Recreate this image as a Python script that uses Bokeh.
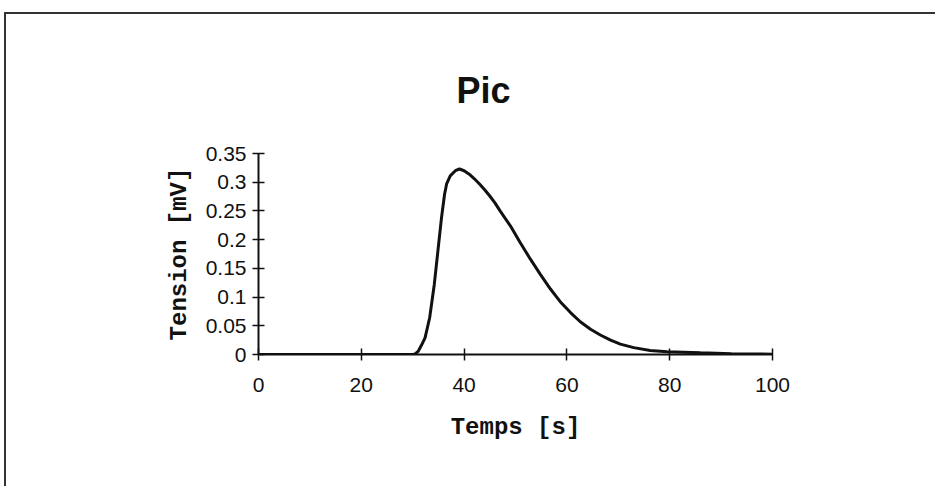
from bokeh.plotting import figure
from bokeh.models import FixedTicker, CustomJSTickFormatter, Range1d
from bokeh.embed import file_html
from bokeh.resources import INLINE

# ---- data ----
temps = [0, 10, 20, 28, 30, 30.5, 31.1, 31.7, 32.4, 33.3, 34.2, 34.9, 35.6, 36.2,
         36.6, 37.3, 38.3, 39.1, 40.0, 41.0, 42.0, 43.0, 44.0, 45.0, 46.0, 47.0,
         49.0, 50.9, 52.9, 54.8, 56.8, 58.7, 60.7, 62.6, 64.6, 66.5, 68.5, 70.4,
         73.0, 76.2, 79.5, 86.0, 92.0, 100]
tension = [0, 0, 0, 0, 0, 0.001, 0.006, 0.016, 0.029, 0.064, 0.122, 0.180, 0.238, 0.279,
           0.297, 0.311, 0.320, 0.323, 0.320, 0.314, 0.306, 0.297, 0.287, 0.276, 0.264, 0.250,
           0.224, 0.195, 0.166, 0.140, 0.114, 0.092, 0.073, 0.057, 0.044, 0.034, 0.025, 0.018,
           0.012, 0.007, 0.005, 0.003, 0.0015, 0.0005]

x_ticks = [0, 20, 40, 60, 80, 100]
y_ticks = [0, 0.05, 0.1, 0.15, 0.2, 0.25, 0.3, 0.35]

title_text = "Pic"
x_label = "Temps [s]"
y_label = "Tension [mV]"

W, H = 931, 474

p = figure(width=W, height=H, output_backend="svg", toolbar_location=None,
           x_range=Range1d(0, 100), y_range=Range1d(0, 0.35),
           min_border_left=252, min_border_right=165,
           min_border_top=139, min_border_bottom=134,
           styles={"box-shadow": "-2px -2px 0 0 #333333",
                   "margin-top": "14px", "margin-left": "6px"})

p.title.text = title_text
p.title.align = "left"
p.title.offset = 198
p.title.standoff = 86
p.title.text_font = "Liberation Sans"
p.title.text_font_size = "36px"
p.title.text_font_style = "bold"
p.title.text_color = "#111111"

p.line(temps, tension, line_color="#111111", line_width=3)

p.grid.visible = False
p.outline_line_color = None
p.background_fill_color = "white"
p.border_fill_color = "white"

fmt = CustomJSTickFormatter(code="return String(tick);")

for ax, ticks, lab in ((p.xaxis[0], x_ticks, x_label), (p.yaxis[0], y_ticks, y_label)):
    ax.ticker = FixedTicker(ticks=ticks)
    ax.formatter = fmt
    ax.minor_tick_line_color = None
    ax.major_tick_in = 6
    ax.major_tick_out = 6
    ax.major_tick_line_width = 1.5
    ax.major_tick_line_color = "#111111"
    ax.axis_line_width = 2
    ax.axis_line_color = "#111111"
    ax.major_label_text_font = "Liberation Sans"
    ax.major_label_text_font_size = "21px"
    ax.major_label_text_color = "#111111"
    ax.axis_label = lab
    ax.axis_label_text_font = "Liberation Mono"
    ax.axis_label_text_font_size = "24px"
    ax.axis_label_text_font_style = "bold"
    ax.axis_label_text_color = "#111111"

p.xaxis[0].major_label_standoff = 17
p.xaxis[0].axis_label_standoff = 19
p.yaxis[0].major_label_standoff = 6
p.yaxis[0].axis_label_standoff = 10

open("out.html", "w").write(file_html(p, INLINE))
